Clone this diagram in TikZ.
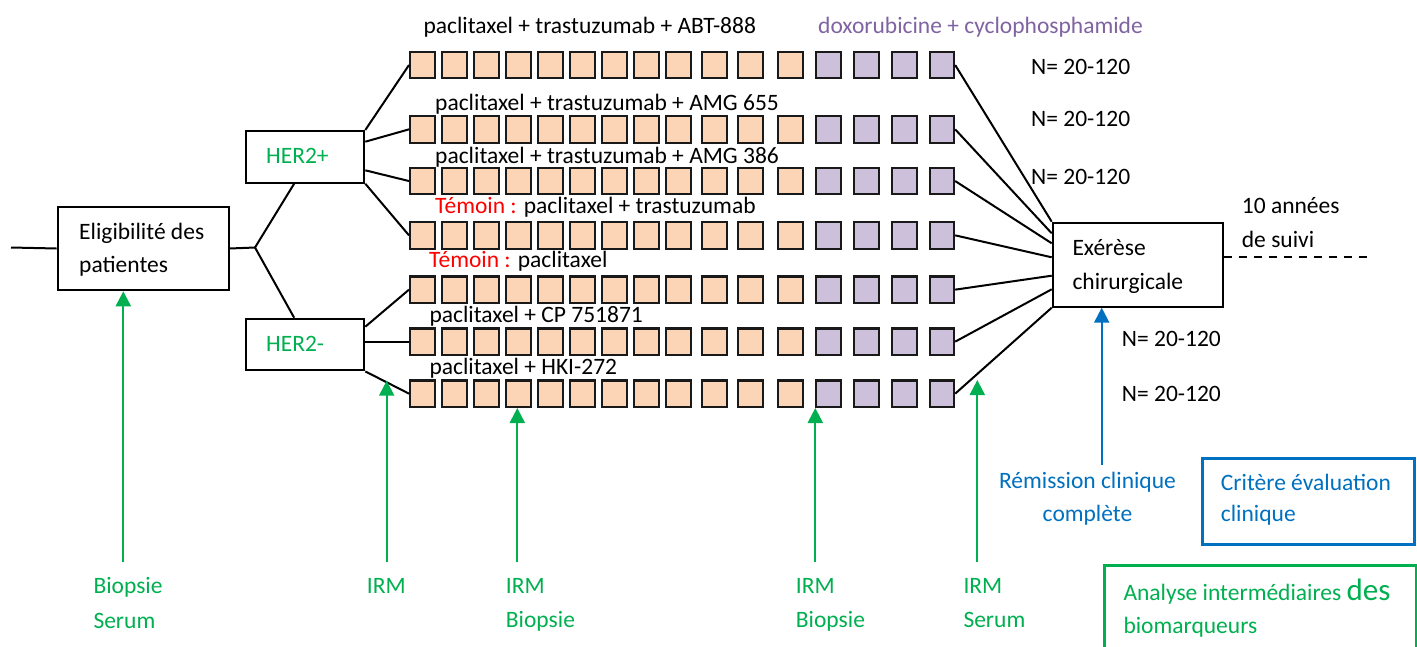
\documentclass[tikz,border=0pt]{standalone}
\usepackage{fontspec}
\setmainfont{Carlito}
\usetikzlibrary{arrows.meta,calc}
\definecolor{og}{HTML}{FBD5B5}
\definecolor{pu}{HTML}{CCC0DA}
\definecolor{gr}{HTML}{00B050}
\definecolor{bl}{HTML}{0070C0}
\definecolor{ptxt}{HTML}{8064A2}
\definecolor{rd}{HTML}{FF0000}
\begin{document}
\begin{tikzpicture}[x=1pt,y=-1pt,
  txt/.style={anchor=base west, inner sep=0pt, font=\fontsize{23.5}{28}\selectfont},
  ctxt/.style={anchor=base, inner sep=0pt, font=\fontsize{23.5}{28}\selectfont},
  cell/.style={draw=black!90, line width=2.2pt, minimum width=24.5pt, minimum height=26.5pt, inner sep=0pt, anchor=north west},
  ocell/.style={cell, fill=og},
  pcell/.style={cell, fill=pu},
  frame/.style={draw=black, line width=2pt, inner sep=0pt, anchor=north west},
  conn/.style={draw=black, line width=2pt},
  garrow/.style={draw=gr, line width=2.2pt, -{Triangle[width=15pt,length=15pt]}},
  barrow/.style={draw=bl, line width=2.2pt, -{Triangle[width=15pt,length=15pt]}},
]
\useasboundingbox (0,0) rectangle (1417,646);
\clip (0,0) rectangle (1417,646);
\fill[white] (0,0) rectangle (1417,646);

% framed boxes
\node[frame, minimum width=171pt, minimum height=83.6pt] (elig) at (56.7,205.7) {};
\node[frame, minimum width=118.3pt, minimum height=51.7pt] (her2p) at (245,130) {};
\node[frame, minimum width=118.3pt, minimum height=51.7pt] (her2m) at (245,317.7) {};
\node[frame, minimum width=170pt, minimum height=84pt] (exer) at (1051.7,221.7) {};
\node[draw=bl, line width=3pt, inner sep=0pt, anchor=north west, minimum width=212.5pt, minimum height=86.5pt] (crit) at (1200.5,456.5) {};
\node[draw=gr, line width=3pt, inner sep=0pt, anchor=north west, minimum width=312pt, minimum height=140pt] (anal) at (1102.5,563.5) {};

% treatment cells
\foreach \r/\y in {1/50.7, 2/115, 3/166.7, 4/221, 5/275.3, 6/327.3, 7/379.3} {
  \foreach \c/\x in {1/409,2/441,3/473,4/505,5/537,6/569,7/601,8/633,9/665,10/701,11/737,12/777}
    \node[ocell] (r\r-\c) at (\x,\y) {};
  \foreach \c/\x in {13/815,14/853,15/891,16/928.5}
    \node[pcell] (r\r-\c) at (\x,\y) {};
}

% connectors left
\coordinate (in) at (11,247.5);
\coordinate (br) at (255,247.5);
\draw[conn] (in) -- (elig.west);
\draw[conn] (elig.east) -- (br);
\draw[conn] (br) -- ($(her2p.south)+(-11,0)$);
\draw[conn] (br) -- ($(her2m.north)+(-11,0)$);
\draw[conn] (her2p.north east) -- (r1-1.west);
\draw[conn] ($(her2p.north east)+(0,11.7)$) -- (r2-1.west);
\draw[conn] ($(her2p.south east)+(0,-13.4)$) -- (r3-1.west);
\draw[conn] (her2p.south east) -- (r4-1.west);
\draw[conn] ($(her2m.north east)+(0,9)$) -- (r5-1.west);
\draw[conn] (her2m.east |- r6-1.west) -- (r6-1.west);
\draw[conn] (her2m.south east) -- (r7-1.west);

% connectors right
\draw[conn] (r1-16.east) -- (exer.north west);
\draw[conn] (r2-16.east) -- ($(exer.north west)+(0,11.6)$);
\draw[conn] (r3-16.east) -- ($(exer.north west)+(0,21.6)$);
\draw[conn] (r4-16.east) -- ($(exer.north west)+(0,35.6)$);
\draw[conn] (r5-16.east) -- ($(exer.north west)+(0,54)$);
\draw[conn] (r6-16.east) -- ($(exer.north west)+(0,67.6)$);
\draw[conn] (r7-16.east) -- (exer.south west);
\coordinate (fu) at (1366.7,257.3);
\draw[black, line width=1.8pt, dash pattern=on 8pt off 7pt] ($(exer.north east)+(0,35.6)$) -- (fu);

% arrows
\coordinate (a0) at (123.3,562.3);
\draw[garrow] (a0) -- (a0 |- elig.south);
\coordinate (a1) at (386.7,562.3);
\coordinate (t1) at (386.7,380.7);
\draw[garrow] (a1) -- (t1);
\coordinate (a2) at (517.3,562.3);
\draw[garrow] (a2) -- (a2 |- r7-4.south);
\coordinate (a3) at (815.3,562.3);
\draw[garrow] (a3) -- (a3 |- r7-13.south);
\coordinate (a4) at (977.3,562.3);
\coordinate (t4) at (977.3,380);
\draw[garrow] (a4) -- (t4);
\coordinate (b0) at (1101.7,465);
\draw[barrow] (b0) -- (b0 |- exer.south);

% texts in boxes
\node[txt] (e1) at (79,239) {Eligibilité des};
\node[txt] (e2) at (79,272.7) {patientes};
\node[txt, text=gr] (hp) at (266,163.3) {HER2+};
\node[txt, text=gr] (hm) at (266,351) {HER2-};
\node[txt] (x1) at (1072.3,255) {Exérèse};
\node[txt] (x2) at (1072.3,289) {chirurgicale};
\node[txt, text=bl] (c1) at (1220.7,490) {Critère évaluation};
\node[txt, text=bl] (c2) at (1220.7,521.7) {clinique};
\node[txt, text=gr] (an1) at (1123.3,600) {Analyse intermédiaires {\fontsize{31}{34}\selectfont des}};
\node[txt, text=gr] (an2) at (1123.3,633.3) {biomarqueurs};

% row labels
\node[txt] (l1) at (423.3,33) {paclitaxel + trastuzumab + ABT-888};
\node[txt, text=ptxt] (dox) at (818,33) {doxorubicine + cyclophosphamide};
\node[txt] (l2) at (435,110) {paclitaxel + trastuzumab + AMG 655};
\node[txt] (l3) at (435,163) {paclitaxel + trastuzumab + AMG 386};
\node[txt] (l4) at (435,213.5) {\textcolor{rd}{Témoin :} paclitaxel + trastuzumab};
\node[txt] (l5) at (429,267) {\textcolor{rd}{Témoin :} paclitaxel};
\node[txt] (l6) at (429.3,322.5) {paclitaxel + CP 751871};
\node[txt] (l7) at (429.3,374) {paclitaxel + HKI-272};

% N labels
\node[txt] (n1) at (1031,74) {N= 20-120};
\node[txt] (n2) at (1031,126) {N= 20-120};
\node[txt] (n3) at (1031,184) {N= 20-120};
\node[txt] (n4) at (1121.7,346.7) {N= 20-120};
\node[txt] (n5) at (1121.7,401.7) {N= 20-120};
\node[txt] (s1) at (1241.7,213.3) {10 années};
\node[txt] (s2) at (1241.7,247.7) {de suivi};

% bottom labels
\node[txt, text=gr] (g0a) at (93.3,593.3) {Biopsie};
\node[txt, text=gr] (g0b) at (93.3,628.3) {Serum};
\node[txt, text=gr] (g1a) at (366.7,593.3) {IRM};
\node[txt, text=gr] (g2a) at (505.7,593.3) {IRM};
\node[txt, text=gr] (g2b) at (505.7,627.7) {Biopsie};
\node[txt, text=gr] (g3a) at (795.7,593.3) {IRM};
\node[txt, text=gr] (g3b) at (795.7,627.7) {Biopsie};
\node[txt, text=gr] (g4a) at (963.3,593.3) {IRM};
\node[txt, text=gr] (g4b) at (963.3,627.7) {Serum};
\node[ctxt, text=bl] (rm1) at (1087.5,488.3) {Rémission clinique};
\node[ctxt, text=bl] (rm2) at (1087.5,521.7) {complète};
\end{tikzpicture}
\end{document}
